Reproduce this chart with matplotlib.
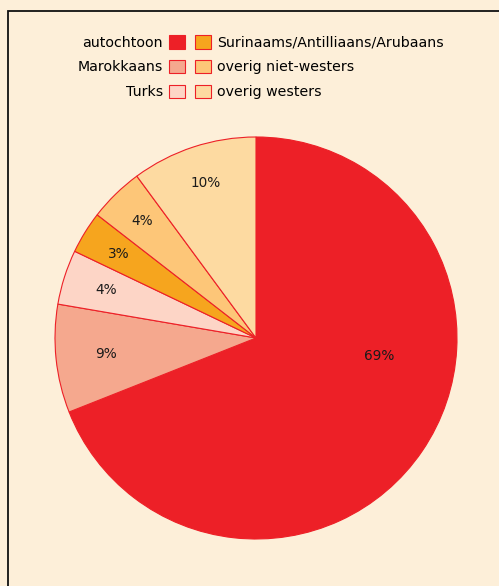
import matplotlib

matplotlib.use("Agg")
import matplotlib.pyplot as plt
import numpy as np
from matplotlib.patches import Patch, Rectangle

# data
categories = ["autochtoon", "Marokkaans", "Turks",
              "Surinaams/Antilliaans/Arubaans", "overig niet-westers", "overig westers"]
shares = [69.0, 8.7, 4.4, 3.4, 4.4, 10.1]
colors = ["#ED2027", "#F5A88E", "#FDD5C6", "#F6A51E", "#FDC678", "#FDDAA1"]

BG = "#FDEFD9"
EDGE = "#ED2027"
W, H = 499, 586

fig = plt.figure(figsize=(W / 100, H / 100), dpi=100, facecolor=BG)

# black frame, left/top visible, runs off right and bottom
fig.patches.append(Rectangle((8 / W, -0.1), 1.2, (H - 11) / H + 0.1, transform=fig.transFigure,
                             fill=False, edgecolor="#111111", linewidth=1.3))

cx, cy, r = 256, 338, 201
ax = fig.add_axes([(cx - r) / W, (H - cy - r) / H, 2 * r / W, 2 * r / H])
ax.set_facecolor(BG)
wedges, _ = ax.pie(shares, colors=colors, startangle=90, counterclock=False,
                   wedgeprops=dict(edgecolor=EDGE, linewidth=0.8))
ax.set_xlim(-1, 1)
ax.set_ylim(-1, 1)
ax.set_aspect("equal")

# percent labels: radius and angle shift per slice tuned to the reference
label_r = [0.62, 0.75, 0.78, 0.80, 0.81, 0.81]
label_shift = [26, 0, 0, 0, 0, 0]
for w, s, lr, sh in zip(wedges, shares, label_r, label_shift):
    ang = np.deg2rad((w.theta1 + w.theta2) / 2 + sh)
    ax.text(lr * np.cos(ang), lr * np.sin(ang), f"{round(s):d}%",
            ha="center", va="center", fontsize=9.8, color="#1a1a1a")

handles = [Patch(facecolor=c, edgecolor=EDGE, linewidth=0.8) for c in colors]
common = dict(frameon=False, fontsize=10.2, handlelength=1.1, handleheight=1.1,
              labelspacing=0.72, handletextpad=0.45, borderpad=0, borderaxespad=0)
leg1 = fig.legend(handles[:3], categories[:3], loc="upper right",
                  bbox_to_anchor=(185 / W, (H - 35) / H), markerfirst=False,
                  alignment="right", **common)
leg2 = fig.legend(handles[3:], categories[3:], loc="upper left",
                  bbox_to_anchor=(195 / W, (H - 35) / H), alignment="left", **common)

fig.savefig("out.png", dpi=100, facecolor=BG)
